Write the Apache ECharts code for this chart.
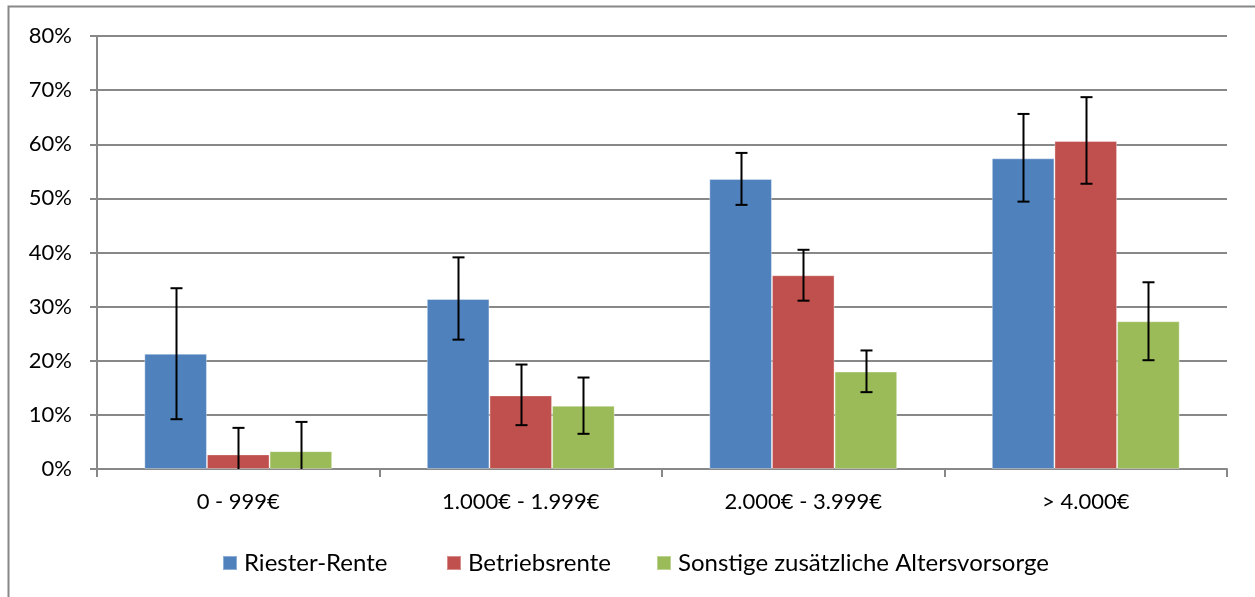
<!DOCTYPE html>
<html>
<head>
<meta charset="utf-8">
<script src="https://cdn.jsdelivr.net/npm/echarts@6/dist/echarts.min.js"></script>
<style>
html,body{margin:0;padding:0;background:#fff;}
#main{width:1255px;height:597px;}
</style>
</head>
<body>
<div id="main"></div>
<script>
const categories = ['0 - 999€', '1.000€ - 1.999€', '2.000€ - 3.999€', '> 4.000€'];
const seriesNames = ['Riester-Rente', 'Betriebsrente', 'Sonstige zusätzliche Altersvorsorge'];
const riester = [21.3, 31.4, 53.6, 57.4];
const riesterUpper = [33.4, 39.1, 58.4, 65.6];
const riesterLower = [9.2, 23.9, 48.8, 49.4];
const betrieb = [2.7, 13.6, 35.8, 60.6];
const betriebUpper = [7.6, 19.3, 40.5, 68.7];
const betriebLower = [0, 8.1, 31.1, 52.7];
const sonstige = [3.3, 11.7, 18.0, 27.3];
const sonstigeUpper = [8.7, 16.9, 21.9, 34.5];
const sonstigeLower = [0, 6.5, 14.2, 20.1];
const yTicks = [0, 10, 20, 30, 40, 50, 60, 70, 80];

const colors = ['#4F81BD', '#C0504D', '#9BBB59'];
const FONT = 'Lato';
const CAT_GAP = 0.335;
const legendLefts = [222, 446, 656];

const values = [riester, betrieb, sonstige];
const uppers = [riesterUpper, betriebUpper, sonstigeUpper];
const lowers = [riesterLower, betriebLower, sonstigeLower];

function errRender(k) {
  return function (params, api) {
    const cat = api.value(0);
    const lo = api.coord([cat, api.value(1)]);
    const hi = api.coord([cat, api.value(2)]);
    const band = api.size([1, 0])[0];
    const bw = band * (1 - CAT_GAP) / 3;
    const x = Math.round(hi[0] + (k - 1) * bw) + 0.5;
    const cap = 6;
    const style = { stroke: '#000', lineWidth: 2 };
    const children = [
      { type: 'line', shape: { x1: x, y1: hi[1], x2: x, y2: lo[1] }, style: style },
      { type: 'line', shape: { x1: x - cap, y1: hi[1], x2: x + cap, y2: hi[1] }, style: style }
    ];
    if (api.value(1) > 0) {
      children.push({ type: 'line', shape: { x1: x - cap, y1: lo[1], x2: x + cap, y2: lo[1] }, style: style });
    }
    return { type: 'group', children: children };
  };
}

const series = [];
for (let k = 0; k < 3; k++) {
  series.push({
    name: seriesNames[k],
    type: 'bar',
    data: values[k],
    barGap: '0%',
    barCategoryGap: (CAT_GAP * 100) + '%',
    itemStyle: { color: colors[k], borderColor: 'rgba(255,255,255,0.35)', borderWidth: 1 },
    z: 2
  });
}
for (let k = 0; k < 3; k++) {
  series.push({
    type: 'custom',
    renderItem: errRender(k),
    data: categories.map((c, i) => [i, lowers[k][i], uppers[k][i]]),
    encode: { x: 0, y: [1, 2] },
    z: 5,
    silent: true
  });
}

const legends = seriesNames.map((n, k) => ({
  data: [n],
  left: legendLefts[k],
  top: 551,
  padding: 0,
  itemWidth: 14,
  itemHeight: 14,
  icon: 'rect',
  selectedMode: false,
  textStyle: { fontFamily: FONT, fontSize: 24, color: '#000', padding: [0, 0, 0, 2] }
}));

const chart = echarts.init(document.getElementById('main'), null, { renderer: 'canvas' });
chart.setOption({
  animation: false,
  backgroundColor: '#fff',
  textStyle: { fontFamily: FONT },
  grid: { left: 97, right: 28, top: 36, bottom: 128, containLabel: false },
  graphic: [{
    type: 'polyline',
    shape: { points: [[8.5, 700], [8.5, 6.5], [1300, 6.5]] },
    style: { stroke: '#888', lineWidth: 2, fill: null },
    silent: true
  }],
  legend: legends,
  xAxis: {
    type: 'category',
    data: categories,
    axisLine: { lineStyle: { color: '#888', width: 2 } },
    axisTick: { show: true, length: 8, lineStyle: { color: '#888', width: 2 }, alignWithLabel: false },
    axisLabel: { fontFamily: FONT, fontSize: 22, color: '#000', margin: 22 }
  },
  yAxis: {
    type: 'value',
    min: 0,
    max: 80,
    interval: 10,
    axisLine: { show: true, lineStyle: { color: '#888', width: 2 } },
    axisTick: { show: true, length: 7, lineStyle: { color: '#888', width: 2 } },
    splitLine: { lineStyle: { color: '#888', width: 2 } },
    axisLabel: { fontFamily: FONT, fontSize: 22, color: '#000', margin: 25, formatter: v => yTicks.includes(v) ? v + '%' : '' }
  },
  series: series
});
</script>
</body>
</html>
